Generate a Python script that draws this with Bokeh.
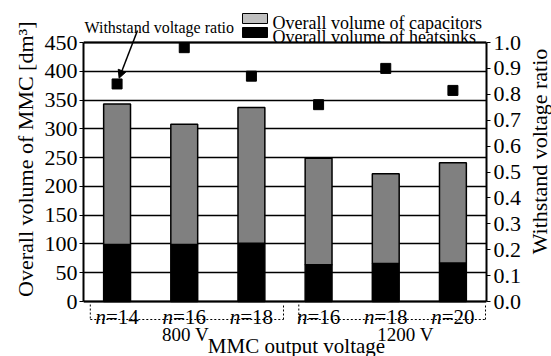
from bokeh.plotting import figure
from bokeh.models import (Range1d, LinearAxis, Arrow, NormalHead, Span, Label,
                          FixedTicker, NumeralTickFormatter)
from bokeh.core.properties import value
from bokeh.embed import file_html
from bokeh.resources import INLINE

# ---------------- data ----------------
group_names = ["800 V", "1200 V"]
n_values = ["14", "16", "18", "16", "18", "20"]
heatsinks = [99, 99, 101, 64, 66, 67]
totals = [343, 308, 337, 249, 222, 241]
capacitors = [t - h for t, h in zip(totals, heatsinks)]
ratio = [0.84, 0.98, 0.87, 0.76, 0.90, 0.815]
left_ticks = [0, 50, 100, 150, 200, 250, 300, 350, 400, 450]
right_ticks = [0.0, 0.1, 0.2, 0.3, 0.4, 0.5, 0.6, 0.7, 0.8, 0.9, 1.0]
legend_texts = ["Overall volume of capacitors", "Overall volume of heatsinks"]

FONT = "Liberation Serif"
W, H = 551, 356
# frame geometry in page pixels (used only to place annotations)
FL, FR, FT, FB = 83.0, 486.0, 42.0, 301.0
NCAT = len(n_values)
YMAX = 450.0
NBSP = "\u00a0"


def dx(px):
    return (px - FL) / (FR - FL) * NCAT


def dy(py):
    return (FB - py) / (FB - FT) * YMAX


xs = [i + 0.5 for i in range(NCAT)]

p = figure(width=W, height=H, x_range=Range1d(0, NCAT), y_range=Range1d(dy(H), dy(0)),
           output_backend="svg", toolbar_location=None, x_axis_location=None,
           min_border_left=int(FL), min_border_right=int(W - FR), min_border_top=0,
           min_border_bottom=0, outline_line_color=None,
           background_fill_color="white", border_fill_color="white")

p.xgrid.visible = False
p.ygrid.ticker = FixedTicker(ticks=left_ticks)
p.ygrid.grid_line_color = "black"
p.ygrid.grid_line_width = 1.4
p.ygrid.grid_line_alpha = 1.0
for loc in (0, 450):
    p.add_layout(Span(location=loc, dimension="width", line_color="black", line_width=2))

ya = p.yaxis[0]
ya.ticker = FixedTicker(ticks=left_ticks)
ya.bounds = (0, 450)
ya.axis_line_width = 2
ya.axis_line_color = "black"
ya.major_tick_out = 4
ya.major_tick_in = 0
ya.major_tick_line_color = "black"
ya.minor_tick_line_color = None
ya.major_label_standoff = 2
ya.major_label_text_font = FONT
ya.major_label_text_font_size = "22px"
ya.major_label_text_color = "black"
ya.axis_label = NBSP * 7 + "Overall volume of MMC [dm\u00b3]"
ya.axis_label_text_font = FONT
ya.axis_label_text_font_size = "22px"
ya.axis_label_text_font_style = "normal"
ya.axis_label_text_color = "black"
ya.axis_label_standoff = 4

p.extra_y_ranges = {"ratio": Range1d(dy(H) / YMAX, dy(0) / YMAX)}
ra = LinearAxis(y_range_name="ratio", ticker=FixedTicker(ticks=right_ticks),
                formatter=NumeralTickFormatter(format="0.0"), bounds=(0, 1))
ra.axis_line_width = 2
ra.axis_line_color = "black"
ra.major_tick_out = 4
ra.major_tick_in = 0
ra.minor_tick_line_color = None
ra.major_label_standoff = 3
ra.major_label_text_font = FONT
ra.major_label_text_font_size = "22px"
ra.major_label_text_color = "black"
p.add_layout(ra, "right")

# right axis title, reading upwards (side panel label, not clipped)
p.add_layout(Label(x=dx(539), y=dy(151), text="Withstand voltage ratio", angle=1.5707963,
                   text_font=FONT, text_font_size="22px", text_align="center",
                   text_baseline="middle", text_color="black"), "right")

# bars
p.vbar(x=xs, bottom=0, top=heatsinks, width=0.4, fill_color="black",
       line_color="black", line_width=1.5)
p.vbar(x=xs, bottom=heatsinks, top=totals, width=0.4, fill_color="#808080",
       line_color="black", line_width=1.5)

# withstand voltage ratio
p.scatter(x=xs, y=ratio, y_range_name="ratio", marker="square", size=10,
          fill_color="black", line_color="black")

# legend (hand drawn)
p.quad(left=[dx(242)] * 2, right=[dx(267)] * 2, bottom=[dy(23), dy(37)], top=[dy(13), dy(27)],
       fill_color=["#c0c0c0", "black"], line_color="black", line_width=1)
p.text(x=[dx(272)] * 2, y=[dy(22.5), dy(36.5)], text=legend_texts, text_font=value(FONT),
       text_font_size=value("18px"), text_align="left", text_baseline="alphabetic",
       text_color="black")

# "Withstand voltage ratio" call-out with arrow
p.text(x=[dx(84)], y=[dy(27)], text=["Withstand voltage ratio"], text_font=value(FONT),
       text_font_size=value("16px"), text_align="left", text_baseline="alphabetic",
       text_color="black")
p.add_layout(Arrow(x_start=dx(137), y_start=dy(30), x_end=xs[0] + 0.03,
                   y_end=ratio[0] * YMAX + 10, line_color="black", line_width=1.5,
                   end=NormalHead(size=8, fill_color="black", line_color="black")))

# category labels: italic n + "=NN"
NFS = 21
n_w = 0.5 * NFS
offs = [n_w - (n_w + (0.564 + 0.5 * len(v)) * NFS) / 2 for v in n_values]
yl = [dy(316.5)] * NCAT
p.text(x=xs, y=yl, x_offset=offs, text=["n"] * NCAT, text_font=value(FONT),
       text_font_style="italic", text_font_size=value(f"{NFS}px"), text_align="right",
       text_baseline="alphabetic", text_color="black")
p.text(x=xs, y=yl, x_offset=offs, text=["=" + v for v in n_values], text_font=value(FONT),
       text_font_size=value(f"{NFS}px"), text_align="left", text_baseline="alphabetic",
       text_color="black")

# dotted group brackets
boxes = [(89.8, 283.0), (298.3, 485.0)]
x0s, y0s, x1s, y1s = [], [], [], []
for (l, r) in boxes:
    for (xa, ya_, xb, yb) in [(l, 304, l, 319), (l, 319, r, 319), (r, 319, r, 304)]:
        x0s.append(dx(xa)); y0s.append(dy(ya_)); x1s.append(dx(xb)); y1s.append(dy(yb))
p.segment(x0=x0s, y0=y0s, x1=x1s, y1=y1s, line_color="black", line_width=1, line_dash="2 2")

group_cx = [185.0, 405.0]
p.text(x=[dx(c) for c in group_cx], y=[dy(334)] * 2, text=group_names, text_font=value(FONT),
       text_font_size=value("19px"), text_align="center", text_baseline="alphabetic",
       text_color="black")

p.text(x=[dx(296)], y=[dy(345)], text=["MMC output voltage"], text_font=value(FONT),
       text_font_size=value("21px"), text_align="center", text_baseline="alphabetic",
       text_color="black")

open("out.html", "w").write(file_html(p, INLINE))
